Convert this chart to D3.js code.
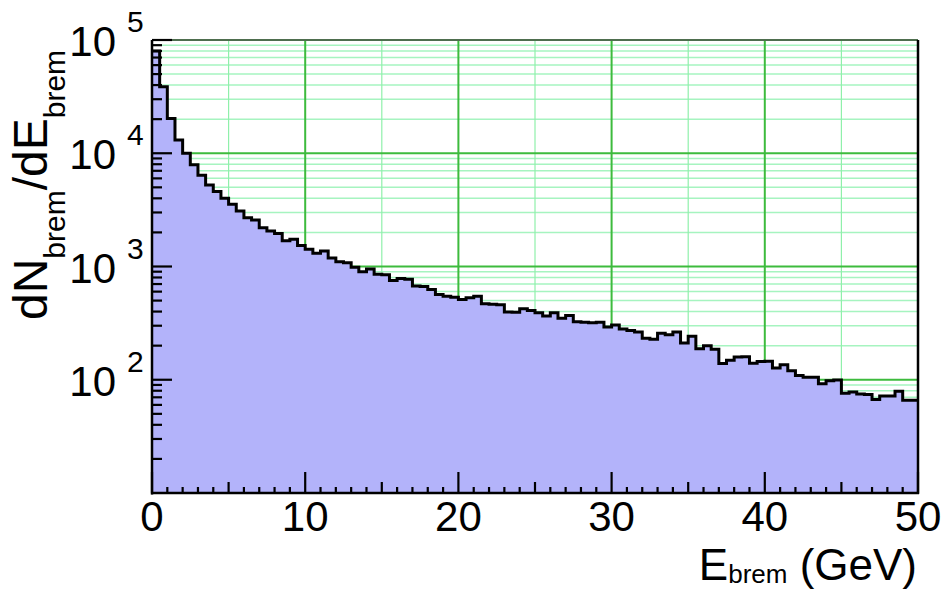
<!DOCTYPE html>
<html>
<head>
<meta charset="utf-8">
<script src="https://cdn.jsdelivr.net/npm/d3@7"></script>
<style>
  html, body { margin: 0; padding: 0; background: #ffffff; }
  svg { display: block; }
  text { font-family: "Liberation Sans", Arial, Helvetica, sans-serif; fill: #000; }
</style>
</head>
<body>
<svg id="chart" width="946" height="590"></svg>
<script>
// Bremsstrahlung photon energy spectrum, 100 bins of 0.5 GeV from 0 to 50 GeV
const binWidth = 0.5;
const counts = [
  80000, 38700, 20300, 13100, 10000, 7900, 6400, 5250, 4600, 4000,
  3550, 3090, 2700, 2580, 2200, 2060, 1960, 1690, 1740, 1530,
  1420, 1310, 1370, 1190, 1100, 1080, 984, 897, 950, 856,
  845, 752, 782, 770, 673, 665, 625, 566, 545, 535,
  510, 529, 545, 468, 464, 460, 396, 395, 423, 409,
  391, 365, 391, 349, 369, 326, 322, 319, 322, 292,
  304, 280, 272, 264, 232, 228, 257, 250, 264, 211,
  242, 188, 200, 186, 139, 149, 159, 160, 140, 145,
  146, 127, 136, 120, 109, 105, 105, 92, 98, 99.5,
  76, 78, 75, 74, 67, 72, 72, 79, 66, 66
];
const binLow = counts.map((_, i) => i * binWidth);

const xDomain = [0, 50];
const yDomain = [10, 1e5];
const xTickLabels = ["0", "10", "20", "30", "40", "50"];
const xMajorTicks = [0, 10, 20, 30, 40, 50];
const yDecadeExponents = ["2", "3", "4", "5"];

const L = 152, R = 918, T = 40, B = 493;

const svg = d3.select("#chart");
const x = d3.scaleLinear().domain(xDomain).range([L, R]);
const y = d3.scaleLog().domain(yDomain).range([B, T]);

// tick positions
const xMinor = d3.range(1, 50, 1).filter(v => v % 5 !== 0);
const xMid = d3.range(5, 50, 10);
const yMinor = [];
for (let e = 1; e <= 4; e++) for (let m = 2; m <= 9; m++) yMinor.push(m * Math.pow(10, e));
const yMajor = [1e2, 1e3, 1e4, 1e5];

// grid (behind the histogram)
const grid = svg.append("g");
grid.selectAll("line.hmin").data(yMinor).join("line")
  .attr("x1", L).attr("x2", R)
  .attr("y1", d => y(d)).attr("y2", d => y(d))
  .attr("stroke", "#a6f4c0").attr("stroke-width", 1.5);
grid.selectAll("line.vmin").data(xMid).join("line")
  .attr("y1", T).attr("y2", B)
  .attr("x1", d => x(d)).attr("x2", d => x(d))
  .attr("stroke", "#8ff0aa").attr("stroke-width", 1.2);
grid.selectAll("line.hmaj").data(yMajor).join("line")
  .attr("x1", L).attr("x2", R)
  .attr("y1", d => y(d)).attr("y2", d => y(d))
  .attr("stroke", "#3dbb3d").attr("stroke-width", 2);
grid.selectAll("line.vmaj").data([10, 20, 30, 40]).join("line")
  .attr("y1", T).attr("y2", B)
  .attr("x1", d => x(d)).attr("x2", d => x(d))
  .attr("stroke", "#3dbb3d").attr("stroke-width", 2);

// histogram
const pts = binLow.map((b, i) => [b, counts[i]]);
pts.push([xDomain[1], counts[counts.length - 1]]);

svg.append("defs").append("clipPath").attr("id", "plotClip")
  .append("rect").attr("x", L).attr("y", T).attr("width", R - L).attr("height", B - T);

const area = d3.area().curve(d3.curveStepAfter)
  .x(d => x(d[0])).y0(B).y1(d => y(d[1]));
const line = d3.line().curve(d3.curveStepAfter)
  .x(d => x(d[0])).y(d => y(d[1]));

const hist = svg.append("g").attr("clip-path", "url(#plotClip)");
hist.append("path").attr("d", area(pts)).attr("fill", "#b3b3fa");
hist.append("path").attr("d", line(pts)).attr("fill", "none")
  .attr("stroke", "#000").attr("stroke-width", 3).attr("stroke-linejoin", "miter");

// frame
svg.append("line").attr("x1", L).attr("x2", R).attr("y1", T).attr("y2", T)
  .attr("stroke", "#555").attr("stroke-width", 1.5);
svg.append("line").attr("x1", R).attr("x2", R).attr("y1", T).attr("y2", B + 1)
  .attr("stroke", "#000").attr("stroke-width", 2.5);

// axis ticks, drawn inward
const ticks = svg.append("g").attr("stroke", "#000").attr("stroke-width", 2.2);
ticks.selectAll("line.xt").data(xMinor).join("line")
  .attr("x1", d => x(d)).attr("x2", d => x(d)).attr("y1", B).attr("y2", B - 6);
ticks.selectAll("line.xm").data(xMid).join("line")
  .attr("x1", d => x(d)).attr("x2", d => x(d)).attr("y1", B).attr("y2", B - 11);
ticks.selectAll("line.xM").data(xMajorTicks).join("line")
  .attr("x1", d => x(d)).attr("x2", d => x(d)).attr("y1", B).attr("y2", B - 21);
ticks.selectAll("line.yt").data(yMinor).join("line")
  .attr("y1", d => y(d)).attr("y2", d => y(d)).attr("x1", L).attr("x2", L + 10);
ticks.selectAll("line.yM").data(yMajor).join("line")
  .attr("y1", d => y(d)).attr("y2", d => y(d)).attr("x1", L).attr("x2", L + 20);

// axis lines
svg.append("line").attr("x1", L).attr("x2", L).attr("y1", T).attr("y2", B + 1.5)
  .attr("stroke", "#000").attr("stroke-width", 2.5);
svg.append("line").attr("x1", L - 1).attr("x2", R + 1).attr("y1", B).attr("y2", B)
  .attr("stroke", "#000").attr("stroke-width", 2.5);

// x tick labels
svg.selectAll("text.xl").data(xMajorTicks).join("text")
  .attr("x", d => x(d)).attr("y", 531)
  .attr("text-anchor", "middle").attr("font-size", 42)
  .text((d, i) => xTickLabels[i]);

// y tick labels: 10 with exponent
yMajor.forEach((v, i) => {
  const yy = y(v);
  svg.append("text").attr("x", 116).attr("y", yy + 16)
    .attr("text-anchor", "end").attr("font-size", 42).text("10");
  svg.append("text").attr("x", 127).attr("y", yy - 8)
    .attr("text-anchor", "start").attr("font-size", 30).text(yDecadeExponents[i]);
});

// x axis title
const xt = svg.append("text").attr("x", 917).attr("y", 580)
  .attr("text-anchor", "end").attr("font-size", 44);
xt.append("tspan").text("E");
xt.append("tspan").attr("font-size", 26).attr("dy", 3).text("brem");
xt.append("tspan").attr("dy", -3).text(" (GeV)");

// y axis title
const yt = svg.append("text")
  .attr("transform", "translate(47,185) rotate(-90)")
  .attr("text-anchor", "middle").attr("font-size", 48);
yt.append("tspan").text("dN");
yt.append("tspan").attr("font-size", 30).attr("dy", 18).text("brem");
yt.append("tspan").attr("dy", -18).text("/dE");
yt.append("tspan").attr("font-size", 30).attr("dy", 18).text("brem");
</script>
</body>
</html>
